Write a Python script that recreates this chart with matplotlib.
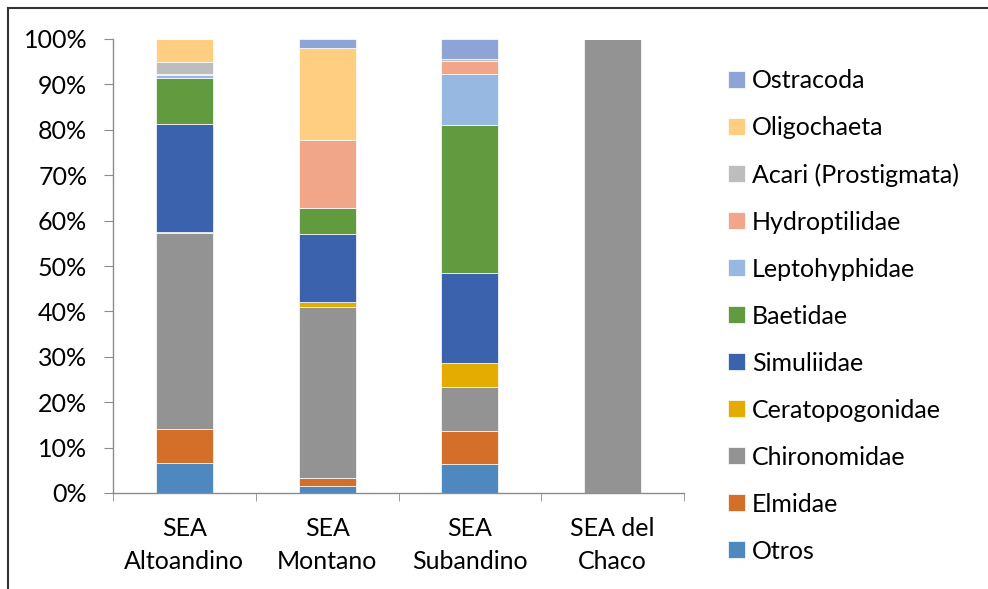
import matplotlib
matplotlib.use("Agg")
import matplotlib.pyplot as plt
from matplotlib.lines import Line2D
from matplotlib.ticker import PercentFormatter
import numpy as np

plt.rcParams["font.family"] = ["Lato", "DejaVu Sans"]

# Percent composition per ecoregion (bottom to top of each stack)
regions = ["SEA\nAltoandino", "SEA\nMontano", "SEA\nSubandino", "SEA del\nChaco"]
taxa = ["Otros", "Elmidae", "Chironomidae", "Ceratopogonidae", "Simuliidae",
        "Baetidae", "Leptohyphidae", "Hydroptilidae", "Acari (Prostigmata)",
        "Oligochaeta", "Ostracoda"]
otros = [6.5, 1.5, 6.3, 0.0]
elmidae = [7.7, 1.9, 7.3, 0.0]
chironomidae = [43.0, 37.5, 9.7, 100.0]
ceratopogonidae = [0.2, 1.1, 5.3, 0.0]
simuliidae = [23.8, 15.0, 19.8, 0.0]
baetidae = [10.1, 5.8, 32.7, 0.0]
leptohyphidae = [0.7, 0.0, 11.3, 0.0]
hydroptilidae = [0.3, 15.0, 2.8, 0.0]
acari = [2.7, 0.0, 0.5, 0.0]
oligochaeta = [5.0, 20.2, 0.0, 0.0]
ostracoda = [0.0, 2.0, 4.3, 0.0]

series = [otros, elmidae, chironomidae, ceratopogonidae, simuliidae, baetidae,
          leptohyphidae, hydroptilidae, acari, oligochaeta, ostracoda]
colors = ["#4F88BE", "#D46F2A", "#939393", "#E5AC00", "#3B63AD", "#629A3F",
          "#97B8E0", "#F1A68A", "#BDBDBD", "#FFCE80", "#8EA4D6"]

fig = plt.figure(figsize=(9.88, 5.89), dpi=100)
ax = fig.add_axes([113 / 988, 1 - 493 / 589, 571 / 988, 454 / 589])

x = np.arange(len(regions))
bottom = np.zeros(len(regions))
for name, vals, col in zip(taxa, series, colors):
    vals = np.array(vals)
    ax.bar(x, vals, width=0.4, bottom=bottom, color=col, label=name,
           edgecolor="white", linewidth=0.5)
    bottom += vals

ax.set_xlim(-0.5, len(regions) - 0.5)
ax.set_ylim(0, 100)
ax.set_yticks(np.arange(0, 101, 10))
ax.yaxis.set_major_formatter(PercentFormatter(decimals=0))
ax.set_xticks(x)
ax.set_xticklabels(regions, linespacing=1.55)
ax.set_xticks(np.arange(-0.5, len(regions)), minor=True)

for side in ["top", "right"]:
    ax.spines[side].set_visible(False)
for side in ["left", "bottom"]:
    ax.spines[side].set_color("#8C8C8C")
    ax.spines[side].set_linewidth(1.0)

ax.tick_params(axis="y", length=6.5, color="#8C8C8C", labelsize=18, pad=12)
ax.tick_params(axis="x", which="major", length=0, labelsize=18, pad=17)
ax.tick_params(axis="x", which="minor", length=5.5, color="#8C8C8C")

handles, labels = ax.get_legend_handles_labels()
fig.legend(handles[::-1], labels[::-1], loc="upper left",
           bbox_to_anchor=(718 / 988, 1 - 59 / 589), frameon=False,
           fontsize=18, handlelength=0.66, handleheight=0.66,
           handletextpad=0.3, labelspacing=0.96, borderaxespad=0)

# outer frame (top and left edges visible)
fig.add_artist(Line2D([8 / 988, 8 / 988], [0, 1 - 8 / 589], color="#333333",
                      linewidth=1.5, transform=fig.transFigure))
fig.add_artist(Line2D([8 / 988, 1], [1 - 8 / 589, 1 - 8 / 589], color="#333333",
                      linewidth=1.5, transform=fig.transFigure))

fig.savefig("out.png", dpi=100)
